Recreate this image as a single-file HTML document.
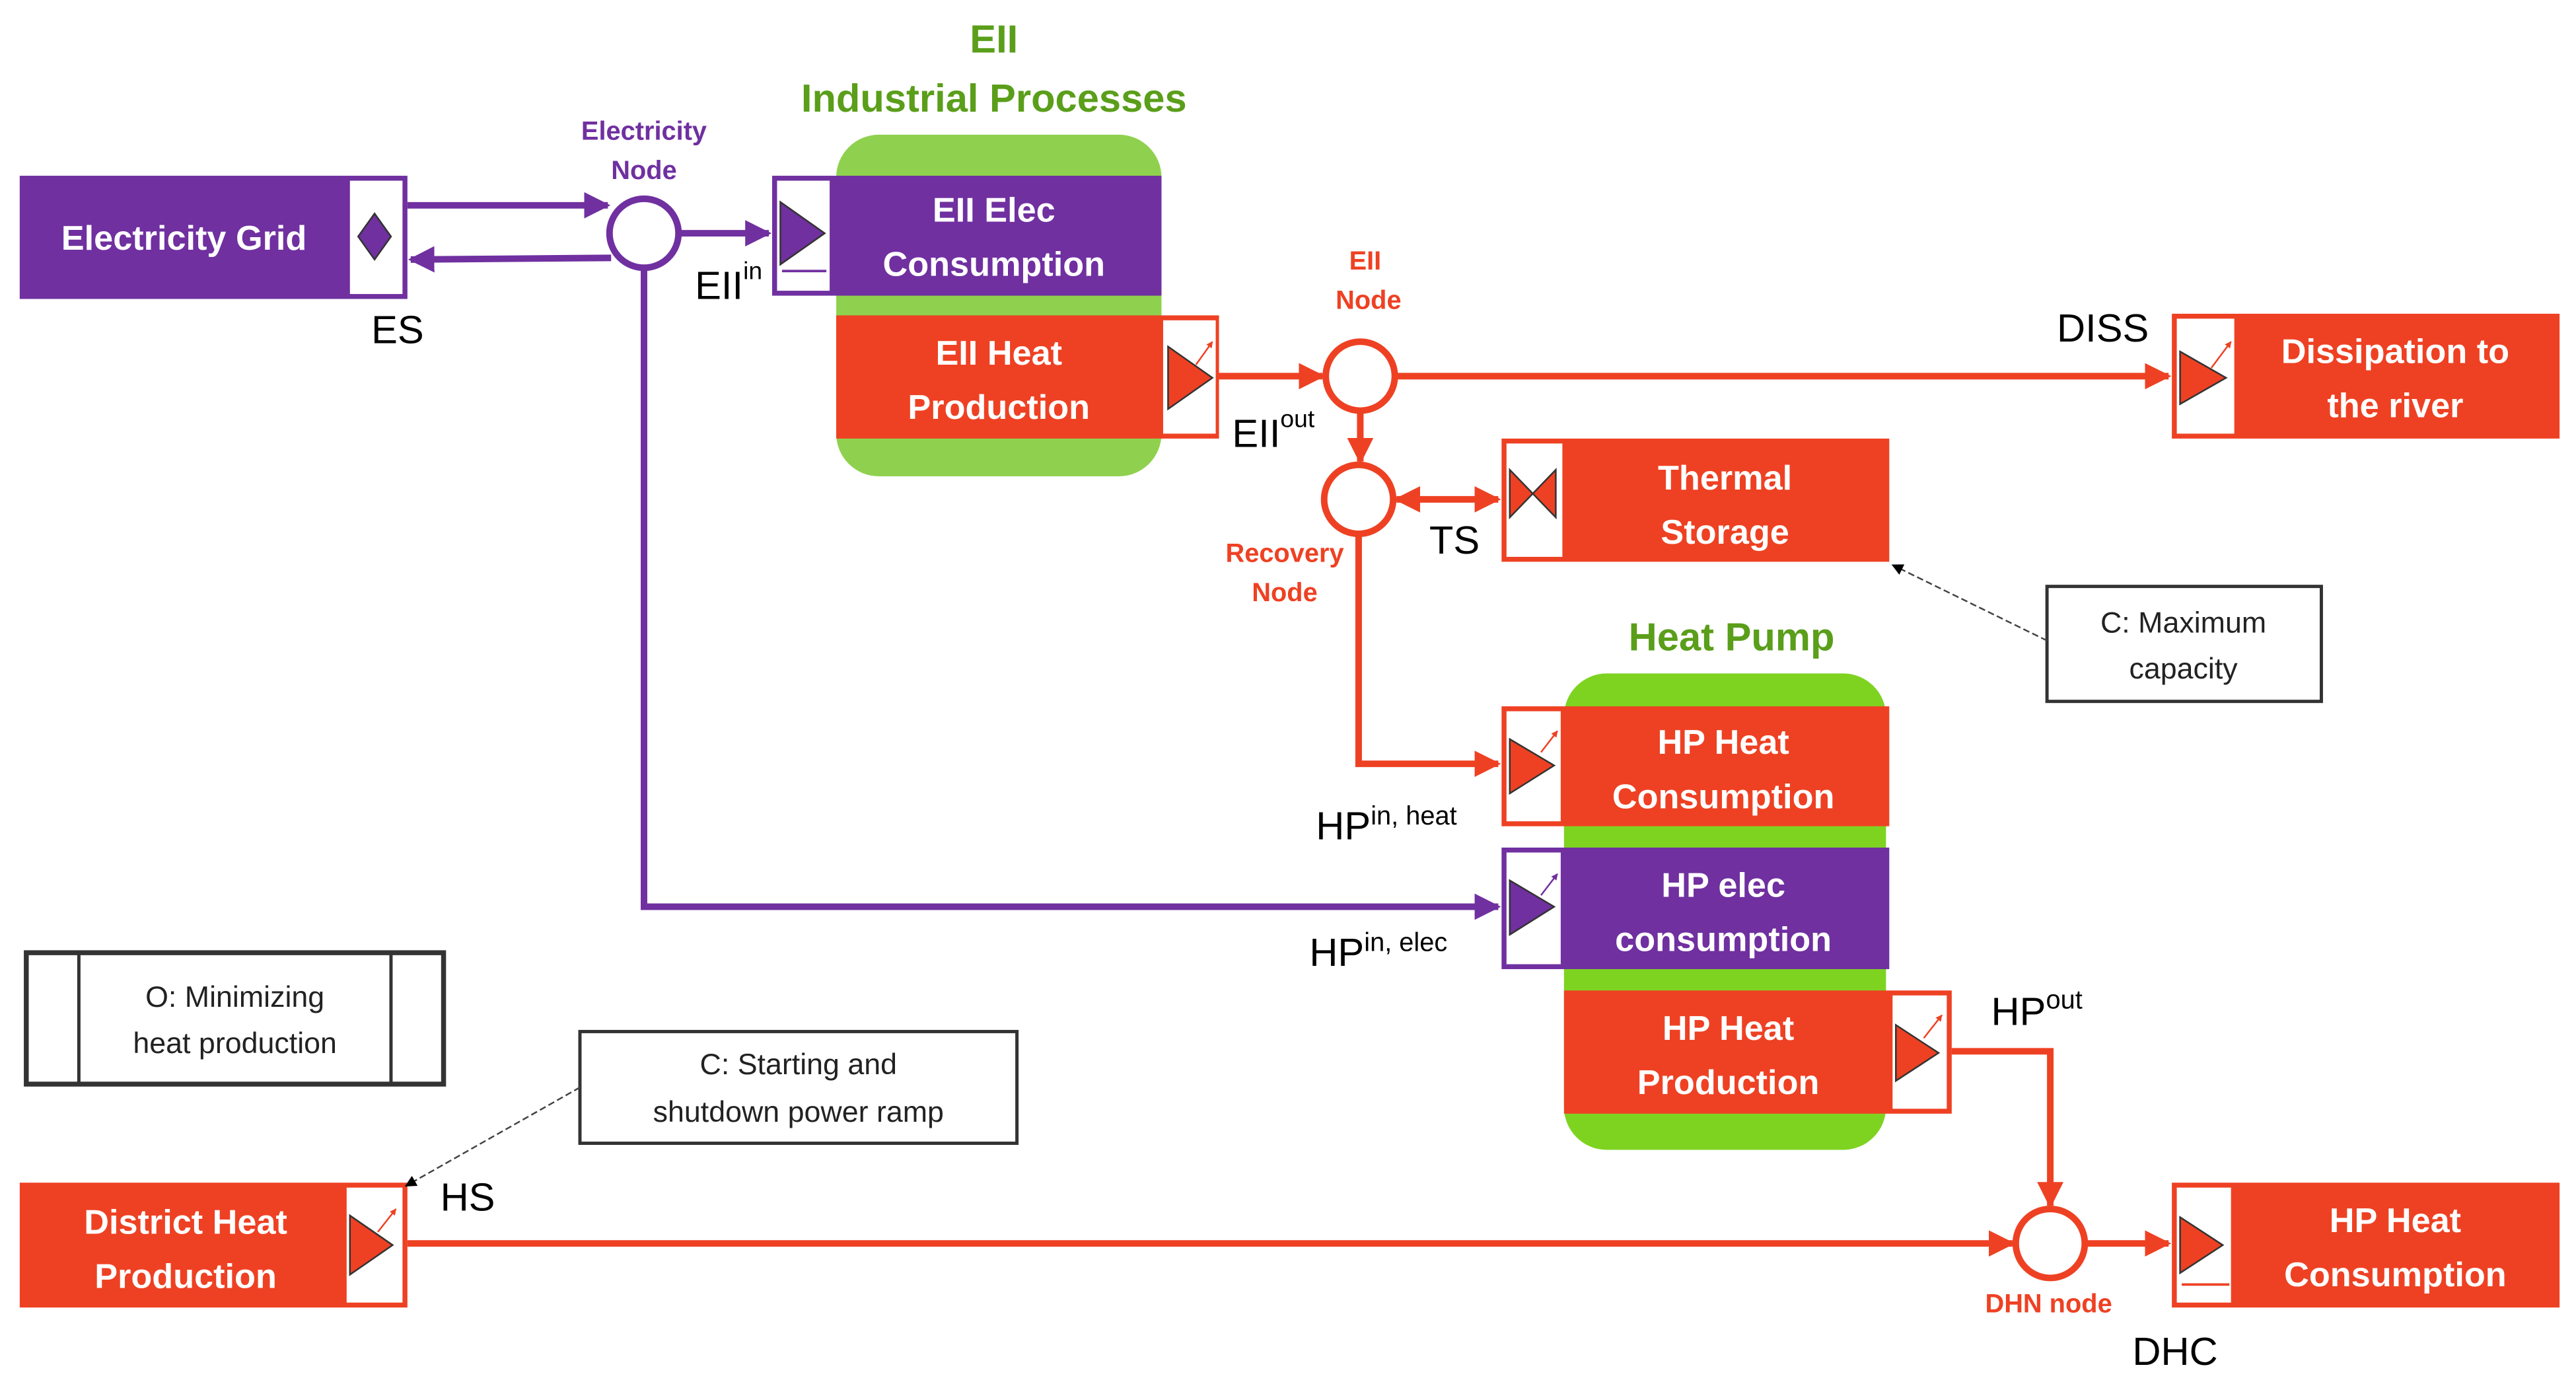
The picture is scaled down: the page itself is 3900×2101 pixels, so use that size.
<!DOCTYPE html>
<html><head><meta charset="utf-8"><style>html,body{margin:0;padding:0;background:#fff;}svg{display:block}</style></head>
<body>
<svg width="3900" height="2101" viewBox="0 0 1568 845" preserveAspectRatio="none" xmlns="http://www.w3.org/2000/svg" font-family="'Liberation Sans', sans-serif">
<defs>
<marker id="ap" viewBox="0 0 10 10" refX="9" refY="5" markerWidth="4" markerHeight="4" orient="auto-start-reverse"><path d="M0,0L10,5L0,10z" fill="#7030A0"/></marker>
<marker id="ar" viewBox="0 0 10 10" refX="9" refY="5" markerWidth="4" markerHeight="4" orient="auto-start-reverse"><path d="M0,0L10,5L0,10z" fill="#EE4123"/></marker>
<marker id="ak" viewBox="0 0 10 10" refX="9" refY="5" markerWidth="7" markerHeight="7" orient="auto"><path d="M0,0L10,5L0,10z" fill="#000"/></marker>
<marker id="sr" viewBox="0 0 10 10" refX="9" refY="5" markerWidth="4" markerHeight="4" orient="auto"><path d="M0,0L10,5L0,10z" fill="#EE4123"/></marker>
<marker id="sp" viewBox="0 0 10 10" refX="9" refY="5" markerWidth="4" markerHeight="4" orient="auto"><path d="M0,0L10,5L0,10z" fill="#7030A0"/></marker>
</defs>

<rect x="509" y="82" width="198" height="208" rx="26" fill="#8FD14F"/>
<rect x="952" y="410" width="196" height="290" rx="26" fill="#7ED321"/>

<g font-weight="bold" fill="#5A9E1A" text-anchor="middle" font-size="24">
<text x="605" y="32">EII</text>
<text x="605" y="68">Industrial Processes</text>
<text x="1054" y="396">Heat Pump</text>
</g>

<rect x="12" y="107" width="236" height="75" fill="#7030A0"/>
<rect x="213" y="110" width="32" height="69" fill="#fff"/>
<path d="M228,130L238,144L228,158L218,144z" fill="#7030A0" stroke="#333" stroke-width="1"/>

<rect x="470" y="107" width="237" height="73" fill="#7030A0"/>
<rect x="473" y="110" width="32" height="67" fill="#fff"/>
<path d="M475,123L502,142L475,161z" fill="#7030A0" stroke="#333" stroke-width="1"/>
<line x1="476" y1="165" x2="503" y2="165" stroke="#7030A0" stroke-width="1.5"/>

<rect x="509" y="192" width="233" height="75" fill="#EE4123"/>
<rect x="708" y="195" width="32" height="69" fill="#fff"/>
<path d="M711,211L738,230L711,249z" fill="#EE4123" stroke="#333" stroke-width="1"/>
<line x1="728" y1="222" x2="738" y2="208" stroke="#EE4123" stroke-width="1" marker-end="url(#sr)"/>

<rect x="1322" y="191" width="236" height="76" fill="#EE4123"/>
<rect x="1325" y="194" width="35" height="70" fill="#fff"/>
<path d="M1327,214L1355,230L1327,246z" fill="#EE4123" stroke="#333" stroke-width="1"/>
<line x1="1346" y1="224" x2="1358" y2="208" stroke="#EE4123" stroke-width="1" marker-end="url(#sr)"/>

<rect x="914" y="267" width="236" height="75" fill="#EE4123"/>
<rect x="917" y="270" width="34" height="69" fill="#fff"/>
<path d="M919,286L947,315L947,286L919,315z" fill="#EE4123" stroke="#333" stroke-width="1"/>

<rect x="914" y="430" width="236" height="73" fill="#EE4123"/>
<rect x="917" y="433" width="33" height="67" fill="#fff"/>
<path d="M919,450L946,466L919,483z" fill="#EE4123" stroke="#333" stroke-width="1"/>
<line x1="938" y1="458" x2="948" y2="445" stroke="#EE4123" stroke-width="1" marker-end="url(#sr)"/>

<rect x="914" y="516" width="236" height="74" fill="#7030A0"/>
<rect x="917" y="519" width="33" height="68" fill="#fff"/>
<path d="M919,536L946,552L919,569z" fill="#7030A0" stroke="#333" stroke-width="1"/>
<line x1="938" y1="545" x2="948" y2="532" stroke="#7030A0" stroke-width="1" marker-end="url(#sp)"/>

<rect x="952" y="603" width="236" height="75" fill="#EE4123"/>
<rect x="1152" y="606" width="33" height="69" fill="#fff"/>
<path d="M1154,624L1180,641L1154,658z" fill="#EE4123" stroke="#333" stroke-width="1"/>
<line x1="1171" y1="632" x2="1182" y2="618" stroke="#EE4123" stroke-width="1" marker-end="url(#sr)"/>

<rect x="1322" y="720" width="236" height="76" fill="#EE4123"/>
<rect x="1325" y="723" width="33" height="70" fill="#fff"/>
<path d="M1327,741L1353,758L1327,775z" fill="#EE4123" stroke="#333" stroke-width="1"/>
<line x1="1328" y1="782" x2="1357" y2="782" stroke="#EE4123" stroke-width="1.5"/>

<rect x="12" y="720" width="236" height="76" fill="#EE4123"/>
<rect x="211" y="723" width="34" height="70" fill="#fff"/>
<path d="M213,740L239,758L213,776z" fill="#EE4123" stroke="#333" stroke-width="1"/>
<line x1="230" y1="750" x2="241" y2="736" stroke="#EE4123" stroke-width="1" marker-end="url(#sr)"/>

<g font-weight="bold" fill="#fff" text-anchor="middle" font-size="21">
<text x="112" y="152">Electricity Grid</text>
<text x="605" y="135">EII Elec</text>
<text x="605" y="168">Consumption</text>
<text x="608" y="222">EII Heat</text>
<text x="608" y="255">Production</text>
<text x="1458" y="221">Dissipation to</text>
<text x="1458" y="254">the river</text>
<text x="1050" y="298">Thermal</text>
<text x="1050" y="331">Storage</text>
<text x="1049" y="459">HP Heat</text>
<text x="1049" y="492">Consumption</text>
<text x="1049" y="546">HP elec</text>
<text x="1049" y="579">consumption</text>
<text x="1052" y="633">HP Heat</text>
<text x="1052" y="666">Production</text>
<text x="1458" y="750">HP Heat</text>
<text x="1458" y="783">Consumption</text>
<text x="113" y="751">District Heat</text>
<text x="113" y="784">Production</text>
</g>

<g stroke="#7030A0" stroke-width="4" fill="none">
<line x1="248" y1="125" x2="370" y2="125" marker-end="url(#ap)"/>
<line x1="372" y1="157" x2="250" y2="158" marker-end="url(#ap)"/>
<line x1="413" y1="142" x2="468" y2="142" marker-end="url(#ap)"/>
<polyline points="392,163 392,552 912,552" marker-end="url(#ap)"/>
<circle cx="392" cy="142" r="21" fill="#fff"/>
</g>

<g stroke="#EE4123" stroke-width="4" fill="none">
<line x1="742" y1="229" x2="805" y2="229" marker-end="url(#ar)"/>
<line x1="850" y1="229" x2="1320" y2="229" marker-end="url(#ar)"/>
<line x1="828" y1="250" x2="828" y2="281" marker-end="url(#ar)"/>
<line x1="850" y1="304" x2="912" y2="304" marker-start="url(#ar)" marker-end="url(#ar)"/>
<polyline points="827,325 827,465 912,465" marker-end="url(#ar)"/>
<polyline points="1188,640 1248,640 1248,734" marker-end="url(#ar)"/>
<line x1="248" y1="757" x2="1225" y2="757" marker-end="url(#ar)"/>
<line x1="1269" y1="757" x2="1320" y2="757" marker-end="url(#ar)"/>
<circle cx="828" cy="229" r="21" fill="#fff"/>
<circle cx="827" cy="304" r="21" fill="#fff"/>
<circle cx="1248" cy="757" r="21" fill="#fff"/>
</g>

<g font-weight="bold" text-anchor="middle" font-size="16">
<text x="392" y="85" fill="#7030A0">Electricity</text>
<text x="392" y="109" fill="#7030A0">Node</text>
<text x="831" y="164" fill="#EE4123">EII</text>
<text x="833" y="188" fill="#EE4123">Node</text>
<text x="782" y="342" fill="#EE4123">Recovery</text>
<text x="782" y="366" fill="#EE4123">Node</text>
<text x="1247" y="799" fill="#EE4123">DHN node</text>
</g>

<g fill="#000" font-size="24">
<text x="226" y="209">ES</text>
<text x="423" y="182">EII<tspan font-size="15" dy="-12">in</tspan></text>
<text x="750" y="272">EII<tspan font-size="15" dy="-12">out</tspan></text>
<text x="1252" y="208">DISS</text>
<text x="870" y="337">TS</text>
<text x="801" y="511">HP<tspan font-size="16" dy="-9">in, heat</tspan></text>
<text x="797" y="588">HP<tspan font-size="16" dy="-9">in, elec</tspan></text>
<text x="1212" y="624">HP<tspan font-size="16" dy="-10">out</tspan></text>
<text x="268" y="737">HS</text>
<text x="1298" y="831">DHC</text>
</g>

<g stroke="#333" fill="#fff">
<rect x="1246" y="357" width="167" height="70" stroke-width="2"/>
<rect x="353" y="628" width="266" height="68" stroke-width="2"/>
<rect x="16" y="580" width="254" height="80" stroke-width="3"/>
<line x1="48" y1="580" x2="48" y2="660" stroke-width="2"/>
<line x1="238" y1="580" x2="238" y2="660" stroke-width="2"/>
</g>
<g fill="#222" text-anchor="middle" font-size="18">
<text x="1329" y="385">C: Maximum</text>
<text x="1329" y="413">capacity</text>
<text x="486" y="654">C: Starting and</text>
<text x="486" y="683">shutdown power ramp</text>
<text x="143" y="613">O: Minimizing</text>
<text x="143" y="641">heat production</text>
</g>
<g stroke="#444" stroke-width="1" stroke-dasharray="4,2" fill="none">
<line x1="1246" y1="390" x2="1152" y2="344" marker-end="url(#ak)"/>
<line x1="353" y1="662" x2="247" y2="722" marker-end="url(#ak)"/>
</g>
</svg>
</body></html>
